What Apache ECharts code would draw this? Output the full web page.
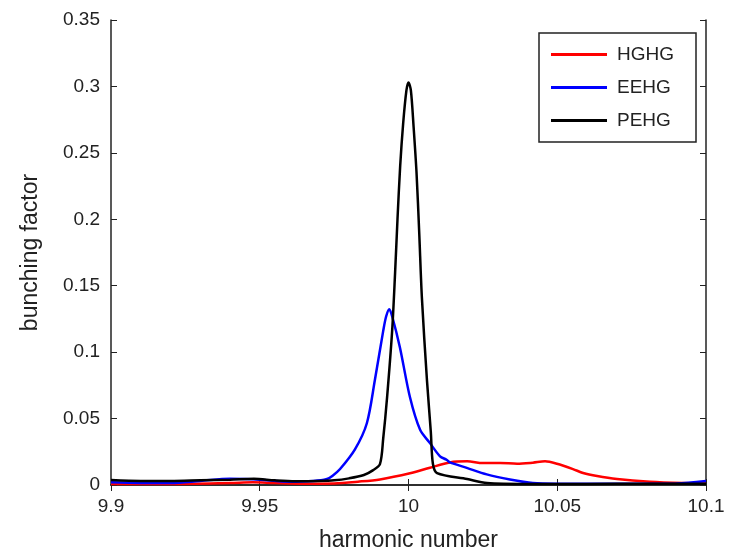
<!DOCTYPE html>
<html>
<head>
<meta charset="utf-8">
<script src="https://cdn.jsdelivr.net/npm/echarts@6/dist/echarts.min.js"></script>
<style>html,body{margin:0;padding:0;background:#fff;}#c{width:729px;height:557px;}</style>
</head>
<body>
<div id="c"></div>
<script>
var seriesNames = ['HGHG', 'EEHG', 'PEHG'];
var xTicks = [9.9, 9.95, 10, 10.05, 10.1];
var yTicks = [0, 0.05, 0.1, 0.15, 0.2, 0.25, 0.3, 0.35];

var hghgX = [9.9, 9.92, 9.94, 9.9477, 9.955, 9.965, 9.975, 9.983, 9.9904, 10.0005, 10.0072, 10.0139, 10.0197, 10.025, 10.0308, 10.0365, 10.0418, 10.0459, 10.0499, 10.0553, 10.0587, 10.0634, 10.0701, 10.0812, 10.0923, 10.1];
var hghgY = [0.0008, 0.0008, 0.0015, 0.002, 0.0015, 0.001, 0.0012, 0.0025, 0.0042, 0.0088, 0.013, 0.017, 0.0178, 0.0165, 0.0166, 0.016, 0.0168, 0.0178, 0.016, 0.012, 0.009, 0.0067, 0.0045, 0.0025, 0.0015, 0.0012];

var eehgX = [9.9, 9.91, 9.92, 9.93, 9.94, 9.945, 9.95, 9.96, 9.968, 9.9726, 9.9745, 9.977, 9.982, 9.986, 9.9887, 9.9915, 9.9925, 9.99355, 9.9945, 9.9971, 10.0005, 10.0039, 10.0072, 10.0106, 10.0128, 10.0139, 10.0196, 10.0263, 10.0341, 10.0418, 10.05, 10.07, 10.09, 10.1];
var eehgY = [0.002, 0.0015, 0.0015, 0.003, 0.0047, 0.0045, 0.004, 0.0025, 0.003, 0.0045, 0.007, 0.012, 0.0268, 0.0465, 0.079, 0.116, 0.127, 0.1323, 0.127, 0.1037, 0.066, 0.0415, 0.0316, 0.0216, 0.019, 0.017, 0.0129, 0.008, 0.0042, 0.0015, 0.001, 0.001, 0.0012, 0.003];

var pehgX = [9.9, 9.91, 9.92, 9.93, 9.94, 9.948, 9.955, 9.962, 9.97, 9.975, 9.98, 9.985, 9.988, 9.9904, 9.9915, 9.9928, 9.9945, 9.9955, 9.9963, 9.9972, 9.9982, 9.9993, 10.0, 10.0008, 10.0017, 10.0027, 10.0036, 10.0045, 10.0062, 10.0075, 10.0082, 10.0096, 10.0197, 10.0264, 10.04, 10.06, 10.08, 10.1];
var pehgY = [0.0037, 0.003, 0.003, 0.0035, 0.004, 0.0047, 0.0035, 0.0028, 0.003, 0.0035, 0.005, 0.0075, 0.011, 0.0157, 0.035, 0.066, 0.116, 0.16, 0.2, 0.24, 0.272, 0.297, 0.303, 0.297, 0.27, 0.235, 0.19, 0.141, 0.079, 0.04, 0.016, 0.009, 0.0045, 0.0015, 0.0008, 0.0008, 0.001, 0.001];

function pairs(xs, ys) { return xs.map(function (x, i) { return [x, ys[i]]; }); }
function fmt(v) { return String(+(+v).toFixed(3)); }

var font = 'Liberation Sans, Arial, sans-serif';
var chart = echarts.init(document.getElementById('c'), null, { renderer: 'canvas' });

var axisLineStyle = { color: '#222', width: 1.5 };
var tickStyle = { color: '#222', width: 1 };

chart.setOption({
  animation: false,
  backgroundColor: '#fff',
  grid: { left: 111, top: 20, right: 23, bottom: 68, containLabel: false },
  xAxis: [{
    type: 'value', min: xTicks[0], max: xTicks[xTicks.length - 1], interval: 0.05,
    name: 'harmonic number', nameLocation: 'middle', nameGap: 44,
    nameTextStyle: { fontFamily: font, fontSize: 23, color: '#222' },
    axisLine: { show: true, lineStyle: axisLineStyle },
    axisTick: { show: true, inside: true, length: 6, lineStyle: tickStyle },
    axisLabel: { show: true, margin: 12, fontFamily: font, fontSize: 19, color: '#222', formatter: fmt, showMinLabel: true, showMaxLabel: true },
    splitLine: { show: false }
  }, {
    type: 'value', position: 'top', min: xTicks[0], max: xTicks[xTicks.length - 1], interval: 0.05,
    axisLine: { show: true, lineStyle: axisLineStyle },
    axisTick: { show: true, inside: true, length: 6, lineStyle: tickStyle },
    axisLabel: { show: false }, splitLine: { show: false }
  }],
  yAxis: [{
    type: 'value', min: yTicks[0], max: yTicks[yTicks.length - 1], interval: 0.05,
    name: 'bunching factor', nameLocation: 'middle', nameGap: 69, nameRotate: 90,
    nameTextStyle: { fontFamily: font, fontSize: 23, color: '#222' },
    axisLine: { show: true, lineStyle: axisLineStyle },
    axisTick: { show: true, inside: true, length: 6, lineStyle: tickStyle },
    axisLabel: { show: true, margin: 11, fontFamily: font, fontSize: 19, color: '#222', formatter: fmt, showMinLabel: true, showMaxLabel: true },
    splitLine: { show: false }
  }, {
    type: 'value', position: 'right', min: yTicks[0], max: yTicks[yTicks.length - 1], interval: 0.05,
    axisLine: { show: true, lineStyle: axisLineStyle },
    axisTick: { show: true, inside: true, length: 6, lineStyle: tickStyle },
    axisLabel: { show: false }, splitLine: { show: false }
  }],
  legend: {
    left: 539, top: 33, orient: 'vertical',
    padding: [12, 22, 12, 12],
    itemGap: 14, itemWidth: 56, itemHeight: 3,
    icon: 'rect',
    borderColor: '#222', borderWidth: 1.5, backgroundColor: '#fff',
    textStyle: { fontFamily: font, fontSize: 19, color: '#222', padding: [0, 0, 0, 5], lineHeight: 19 },
    data: seriesNames
  },
  series: [
    { name: seriesNames[0], type: 'line', data: pairs(hghgX, hghgY), showSymbol: false, symbol: 'none', smooth: 0.3, lineStyle: { color: '#ff0000', width: 2.5 }, itemStyle: { color: '#ff0000' } },
    { name: seriesNames[1], type: 'line', data: pairs(eehgX, eehgY), showSymbol: false, symbol: 'none', smooth: 0.3, lineStyle: { color: '#0000ff', width: 2.5 }, itemStyle: { color: '#0000ff' } },
    { name: seriesNames[2], type: 'line', data: pairs(pehgX, pehgY), showSymbol: false, symbol: 'none', smooth: 0.3, lineStyle: { color: '#000000', width: 2.5 }, itemStyle: { color: '#000000' } }
  ]
});
</script>
</body>
</html>
